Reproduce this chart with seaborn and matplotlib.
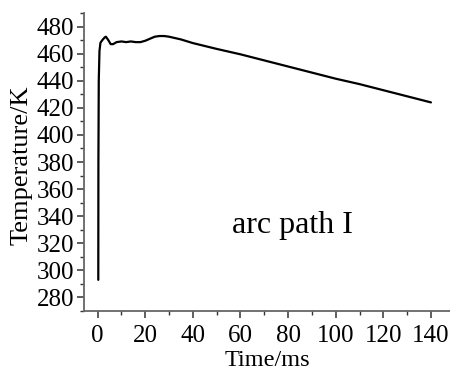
import matplotlib
matplotlib.use("Agg")
import matplotlib.pyplot as plt
from matplotlib.ticker import MultipleLocator
import seaborn as sns
import pandas as pd

# Temperature history along arc path I
time_ms = [0.3, 0.35, 0.5, 0.8, 1.2, 2.0, 3.0, 3.5, 4.5, 5.5, 6.5, 8, 10, 12,
           14, 16, 18, 20, 22, 24, 26, 28, 30, 35, 40, 50, 60, 70, 80, 90,
           100, 110, 120, 130, 140]
temp_k = [293, 380, 440, 462, 468, 470, 472, 472.5, 470, 467, 467, 468.5,
          469, 468.5, 469, 468.5, 468.5, 469.5, 471, 472.5, 473, 473, 472.5,
          470.5, 467.8, 463.5, 459.5, 455, 450.5, 446, 441.5, 437.5, 433,
          428.5, 424]
x_ticks = [0, 20, 40, 60, 80, 100, 120, 140]
y_ticks = [280, 300, 320, 340, 360, 380, 400, 420, 440, 460, 480]

sns.set_theme(style="ticks")
plt.rcParams["font.family"] = ["Liberation Serif", "DejaVu Serif"]
plt.rcParams["text.color"] = "black"
plt.rcParams["axes.labelcolor"] = "black"

df = pd.DataFrame({"Time/ms": time_ms, "Temperature/K": temp_k})

fig = plt.figure(figsize=(4.5, 3.72), dpi=100)
ax = fig.add_axes([84 / 450, 1 - 311 / 372, 1 - 84 / 450, (311 - 13) / 372])

sns.lineplot(data=df, x="Time/ms", y="Temperature/K", ax=ax,
             color="black", linewidth=1.6, estimator=None, sort=False)

ax.set_xlim(-5.7, 148)
ax.set_ylim(270, 490)
ax.set_xticks(x_ticks)
ax.set_yticks(y_ticks)
ax.xaxis.set_minor_locator(MultipleLocator(10))
ax.yaxis.set_minor_locator(MultipleLocator(10))

for side in ("top", "right"):
    ax.spines[side].set_visible(False)
for side in ("left", "bottom"):
    ax.spines[side].set_color("#666666")
    ax.spines[side].set_linewidth(1.3)

ax.tick_params(which="major", direction="out", length=5, width=1.1,
               color="#333333", labelsize=18, labelcolor="black")
ax.tick_params(axis="x", which="major", pad=5)
ax.tick_params(axis="y", which="major", pad=2)
ax.tick_params(which="minor", direction="out", length=3, width=1.0,
               color="#333333")

ax.set_xlabel("Time/ms", fontsize=17.5, labelpad=0, color="black")
ax.xaxis.set_label_coords(0.5, -0.13)
ax.set_ylabel("Temperature/K", fontsize=19, color="black")
ax.yaxis.set_label_coords(-0.14, 0.49)

ax.text(81.8, 333, "arc path I", fontsize=23, ha="center", va="center",
        color="black")

fig.savefig("out.png", dpi=100)
